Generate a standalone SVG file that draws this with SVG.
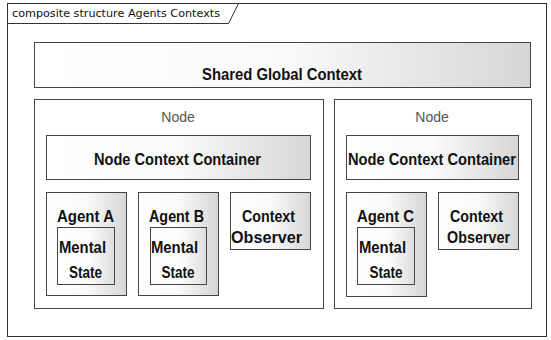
<svg xmlns="http://www.w3.org/2000/svg" width="551" height="340" viewBox="0 0 551 340">
<defs>
<linearGradient id="g" x1="0" y1="0" x2="1" y2="0">
<stop offset="0" stop-color="#ffffff"/>
<stop offset="0.5" stop-color="#fafafa"/>
<stop offset="1" stop-color="#d6d6d6"/>
</linearGradient>
<linearGradient id="g2" x1="0" y1="0" x2="1" y2="0">
<stop offset="0" stop-color="#ffffff"/>
<stop offset="0.55" stop-color="#fcfcfc"/>
<stop offset="1" stop-color="#dedede"/>
</linearGradient>
<style>
.frame{fill:#ffffff;stroke:#333333;stroke-width:1}
.box{fill:url(#g);stroke:#444444;stroke-width:1}
.inner{fill:url(#g2);stroke:#444444;stroke-width:1}
.node{fill:#ffffff;stroke:#444444;stroke-width:1}
.b{font-family:"Liberation Sans Narrow","Liberation Sans",Arial,sans-serif;font-weight:bold;font-size:16px;fill:#111111;text-anchor:middle}
.n{font-family:"Liberation Sans","Arial",sans-serif;font-size:14px;fill:#555555;text-anchor:middle}
.t{font-family:"DejaVu Sans","Liberation Sans",sans-serif;font-size:10.5px;fill:#111111}
</style>
</defs>
<rect x="0" y="0" width="551" height="340" fill="#ffffff"/>
<g id="frame">
<rect class="frame" x="7.5" y="3.5" width="539" height="333"/>
<path d="M7.5 23.5 H228.5 L238.5 3.5" fill="none" stroke="#333333" stroke-width="1"/>
<text class="t" x="12" y="17" textLength="208" lengthAdjust="spacingAndGlyphs">composite structure Agents Contexts</text>
</g>
<g id="shared-global-context">
<rect class="box" x="34.5" y="42.5" width="496" height="45"/>
<text class="b" x="282" y="80" textLength="160" lengthAdjust="spacingAndGlyphs">Shared Global Context</text>
</g>
<g id="node1">
<rect class="node" x="34.5" y="99.5" width="289" height="209"/>
<text class="n" x="178" y="122">Node</text>
</g>
<g id="ncc1">
<rect class="box" x="46.5" y="135.5" width="264" height="44"/>
<text class="b" x="177.5" y="165" textLength="167" lengthAdjust="spacingAndGlyphs">Node Context Container</text>
</g>
<g id="agentA">
<rect class="box" x="46.5" y="192.5" width="80" height="103"/>
<text class="b" x="85.5" y="222" textLength="57" lengthAdjust="spacingAndGlyphs">Agent A</text>
</g>
<g id="mentalA">
<rect class="inner" x="57.5" y="227.5" width="57" height="57"/>
<text class="b" x="82.5" y="253" textLength="47" lengthAdjust="spacingAndGlyphs">Mental</text>
<text class="b" x="85.5" y="278" textLength="33" lengthAdjust="spacingAndGlyphs">State</text>
</g>
<g id="agentB">
<rect class="box" x="138.5" y="192.5" width="80" height="103"/>
<text class="b" x="176.5" y="222" textLength="55" lengthAdjust="spacingAndGlyphs">Agent B</text>
</g>
<g id="mentalB">
<rect class="inner" x="150.5" y="227.5" width="56" height="57"/>
<text class="b" x="174.5" y="253" textLength="47" lengthAdjust="spacingAndGlyphs">Mental</text>
<text class="b" x="178" y="278" textLength="33" lengthAdjust="spacingAndGlyphs">State</text>
</g>
<g id="observer1">
<rect class="box" x="230.5" y="192.5" width="80" height="57"/>
<text class="b" x="268.5" y="222" textLength="53" lengthAdjust="spacingAndGlyphs">Context</text>
<text class="b" x="266.5" y="243" textLength="71" lengthAdjust="spacingAndGlyphs">Observer</text>
</g>
<g id="node2">
<rect class="node" x="334.5" y="99.5" width="197" height="209"/>
<text class="n" x="432" y="122">Node</text>
</g>
<g id="ncc2">
<rect class="box" x="346.5" y="135.5" width="172" height="44"/>
<text class="b" x="432" y="165" textLength="168" lengthAdjust="spacingAndGlyphs">Node Context Container</text>
</g>
<g id="agentC">
<rect class="box" x="346.5" y="192.5" width="80" height="104"/>
<text class="b" x="385.5" y="222" textLength="57" lengthAdjust="spacingAndGlyphs">Agent C</text>
</g>
<g id="mentalC">
<rect class="inner" x="357.5" y="227.5" width="57" height="57"/>
<text class="b" x="382.5" y="253" textLength="47" lengthAdjust="spacingAndGlyphs">Mental</text>
<text class="b" x="386" y="278" textLength="33" lengthAdjust="spacingAndGlyphs">State</text>
</g>
<g id="observer2">
<rect class="box" x="438.5" y="192.5" width="80" height="57"/>
<text class="b" x="476.5" y="222" textLength="53" lengthAdjust="spacingAndGlyphs">Context</text>
<text class="b" x="478.5" y="243" textLength="63" lengthAdjust="spacingAndGlyphs">Observer</text>
</g>
<g id="connectors"/>
</svg>
